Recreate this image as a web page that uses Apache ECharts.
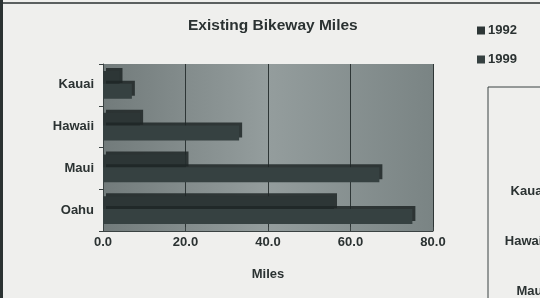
<!DOCTYPE html>
<html>
<head>
<meta charset="utf-8">
<script src="https://cdn.jsdelivr.net/npm/echarts@6/dist/echarts.min.js"></script>
<style>
  html, body { margin: 0; padding: 0; background: #efefed; }
  #chart { width: 540px; height: 298px; }
</style>
</head>
<body>
<div id="chart"></div>
<script>
var islands = ['Kauai', 'Hawaii', 'Maui', 'Oahu'];
var miles1992 = [4, 9, 20, 56];
var miles1999 = [7, 33, 67, 75];
var xTicks = [0, 20, 40, 60, 80];
// labels of the next chart, cut off at the right edge
var sideLabels = ['Kauai', 'Hawaii', 'Maui'];

var myChart = echarts.init(document.getElementById('chart'));

var barStyle = {
    borderRadius: 0,
    shadowColor: 'rgba(30,38,38,0.85)',
    shadowBlur: 0,
    shadowOffsetX: 3,
    shadowOffsetY: -3
};

var option = {
    backgroundColor: '#efefed',
    animation: false,
    title: {
        text: 'Existing Bikeway Miles',
        left: 183,
        top: 13,
        textStyle: {
            fontFamily: 'Liberation Sans',
            fontSize: 15.5,
            fontWeight: 'bold',
            color: '#2b3232'
        }
    },
    legend: {
        orient: 'vertical',
        left: 472,
        top: 19,
        itemWidth: 8,
        itemHeight: 8,
        itemGap: 16,
        icon: 'rect',
        textStyle: {
            fontFamily: 'Liberation Sans',
            fontSize: 13,
            fontWeight: 'bold',
            color: '#2b3232',
            padding: [0, 0, 0, -2]
        },
        data: ['1992', '1999']
    },
    grid: {
        left: 103,
        right: 107,
        top: 64,
        bottom: 67,
        show: true,
        borderWidth: 0,
        backgroundColor: {
            type: 'linear', x: 0, y: 0, x2: 1, y2: 0,
            colorStops: [
                {offset: 0, color: '#727b7b'},
                {offset: 0.5, color: '#949d9d'},
                {offset: 1, color: '#7a8484'}
            ]
        }
    },
    xAxis: {
        type: 'value',
        min: xTicks[0],
        max: xTicks[xTicks.length - 1],
        interval: xTicks[1] - xTicks[0],
        name: 'Miles',
        nameLocation: 'middle',
        nameGap: 37,
        nameTextStyle: {
            fontFamily: 'Liberation Sans',
            fontSize: 13,
            fontWeight: 'bold',
            color: '#2b3232'
        },
        axisLine: {show: true, lineStyle: {color: '#3a4242'}},
        axisTick: {show: true, inside: true, length: 4, lineStyle: {color: '#3a4242'}},
        splitLine: {show: true, lineStyle: {color: '#2e3636', width: 1}},
        axisLabel: {
            margin: 5,
            fontFamily: 'Liberation Sans',
            fontSize: 13,
            fontWeight: 'bold',
            color: '#2b3232',
            formatter: function (v) { return v.toFixed(1); }
        }
    },
    yAxis: {
        type: 'category',
        inverse: true,
        data: islands,
        axisLine: {show: true, lineStyle: {color: '#3a4242'}},
        axisTick: {show: true, length: 4, lineStyle: {color: '#3a4242'}},
        axisLabel: {
            margin: 9,
            fontFamily: 'Liberation Sans',
            fontSize: 13,
            fontWeight: 'bold',
            color: '#2b3232'
        }
    },
    series: [{
        name: '1992',
        type: 'bar',
        data: miles1992,
        barWidth: 15,
        barGap: '-15%',
        itemStyle: Object.assign({color: '#2d3636'}, barStyle)
    }, {
        name: '1999',
        type: 'bar',
        data: miles1999,
        barWidth: 15,
        barGap: '-15%',
        itemStyle: Object.assign({color: '#364141'}, barStyle)
    }],
    graphic: [{
        type: 'rect',
        shape: {x: 1, y: 3, width: 560, height: 320},
        style: {fill: 'none', stroke: '#2b3232', lineWidth: 1.5}
    }, {
        type: 'rect',
        shape: {x: 0, y: 0, width: 3, height: 298},
        style: {fill: '#2b3232'}
    }, {
        type: 'rect',
        shape: {x: 488, y: 87, width: 80, height: 240},
        style: {fill: 'none', stroke: '#3a4242', lineWidth: 1}
    }].concat(sideLabels.map(function (name, i) {
        return {
            type: 'text',
            x: 546,
            y: 191 + i * 50,
            style: {
                text: name,
                align: 'right',
                verticalAlign: 'middle',
                fontFamily: 'Liberation Sans',
                fontSize: 13,
                fontWeight: 'bold',
                fill: '#2b3232'
            }
        };
    }))
};

myChart.setOption(option);
</script>
</body>
</html>
